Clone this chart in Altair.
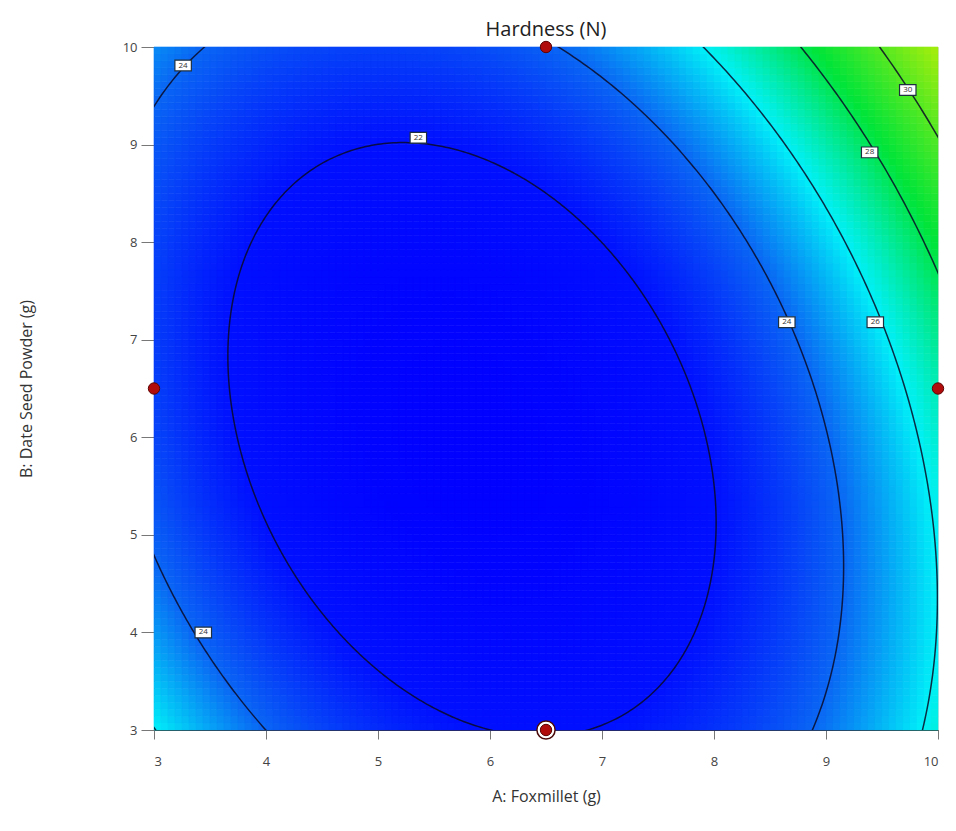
import numpy as np
import pandas as pd
import altair as alt

# Factor ranges (actual units)
A_RANGE = [3.0, 10.0]
B_RANGE = [3.0, 10.0]
A_TICKS = [3, 4, 5, 6, 7, 8, 9, 10]
B_TICKS = [3, 4, 5, 6, 7, 8, 9, 10]

# Quadratic response-surface coefficients for Hardness (coded factors)
COEF_NAMES = ["intercept", "A", "B", "AB", "A2", "B2"]
COEF_VALUES = [20.73, 1.86, 0.974, 1.71, 4.25, 2.18]

# Contour levels and where their labels sit
LEVELS = [22, 24, 26, 28, 30]
LABEL_A = [3.26, 5.36, 3.44, 8.65, 9.44, 9.39, 9.73]
LABEL_B = [9.81, 9.07, 4.00, 7.18, 7.18, 8.92, 9.56]
LABEL_LEVEL = [24, 22, 24, 24, 26, 28, 30]

# Design points
DESIGN_A = [6.5, 3.0, 10.0, 6.5]
DESIGN_B = [10.0, 6.5, 6.5, 3.0]
CENTER_A = [6.5]
CENTER_B = [3.0]

coef = dict(zip(COEF_NAMES, COEF_VALUES))
mid_a, half_a = sum(A_RANGE) / 2, (A_RANGE[1] - A_RANGE[0]) / 2
mid_b, half_b = sum(B_RANGE) / 2, (B_RANGE[1] - B_RANGE[0]) / 2


def hardness(A, B):
    a = (A - mid_a) / half_a
    b = (B - mid_b) / half_b
    return (coef["intercept"] + coef["A"] * a + coef["B"] * b + coef["AB"] * a * b
            + coef["A2"] * a * a + coef["B2"] * b * b)


# Filled surface as a fine grid of cells
nx, ny = 112, 98
ae = np.linspace(A_RANGE[0], A_RANGE[1], nx + 1)
be = np.linspace(B_RANGE[0], B_RANGE[1], ny + 1)
rows = []
for i in range(nx):
    for j in range(ny):
        ac = (ae[i] + ae[i + 1]) / 2
        bc = (be[j] + be[j + 1]) / 2
        rows.append({"A0": ae[i], "A1": ae[i + 1], "B0": be[j], "B1": be[j + 1],
                     "H": float(hardness(ac, bc))})
grid = pd.DataFrame(rows)

# Contours: the surface is an elliptic paraboloid, so each level is an ellipse
M = np.array([[2 * coef["A2"], coef["AB"]], [coef["AB"], 2 * coef["B2"]]])
ctr = np.linalg.solve(M, -np.array([coef["A"], coef["B"]]))
h_min = coef["intercept"] + 0.5 * (coef["A"] * ctr[0] + coef["B"] * ctr[1])
t = np.linspace(0, 2 * np.pi, 721)
c, s = np.cos(t), np.sin(t)
q = coef["A2"] * c * c + coef["AB"] * c * s + coef["B2"] * s * s
crows = []
for lev in LEVELS:
    r = np.sqrt((lev - h_min) / q)
    A = mid_a + half_a * (ctr[0] + r * c)
    B = mid_b + half_b * (ctr[1] + r * s)
    for k in range(len(t)):
        crows.append({"level": lev, "k": k, "A": A[k], "B": B[k]})
contours = pd.DataFrame(crows)

labels = pd.DataFrame({"A": LABEL_A, "B": LABEL_B, "txt": [str(v) for v in LABEL_LEVEL]})
design = pd.DataFrame({"A": DESIGN_A, "B": DESIGN_B})
center = pd.DataFrame({"A": CENTER_A, "B": CENTER_B})

xs = alt.Scale(domain=A_RANGE, nice=False, zero=False)
ys = alt.Scale(domain=B_RANGE, nice=False, zero=False)
cscale = alt.Scale(domain=[20.4, 22.0, 24.0, 26.0, 28.3, 32.5],
                   range=["#0000ff", "#0010ff", "#0a66f4", "#00f0f8", "#00e43a", "#d0f000"],
                   interpolate="rgb")

xaxis = alt.Axis(title="A: Foxmillet (g)", values=A_TICKS, format="d", grid=False,
                 tickSize=9, labelPadding=16, titlePadding=20, labelFontSize=13,
                 titleFontSize=16, labelColor="#444", titleColor="#333",
                 tickColor="#777", domainColor="#333", titleFontWeight="normal",
                 labelFont="Open Sans", titleFont="Open Sans")
yaxis = alt.Axis(title="B: Date Seed Powder (g)", values=B_TICKS, format="d", grid=False,
                 tickSize=13, labelPadding=4, titlePadding=88, labelFontSize=13,
                 titleFontSize=16, labelColor="#444", titleColor="#333",
                 tickColor="#777", domainColor="#333", titleFontWeight="normal",
                 labelFont="Open Sans", titleFont="Open Sans")

surface = alt.Chart(grid).mark_rect(strokeWidth=0.6).encode(
    x=alt.X("A0:Q", scale=xs, axis=xaxis),
    x2="A1:Q",
    y=alt.Y("B0:Q", scale=ys, axis=yaxis),
    y2="B1:Q",
    color=alt.Color("H:Q", scale=cscale, legend=None),
    stroke=alt.Stroke("H:Q", scale=cscale, legend=None),
)

lines = alt.Chart(contours).mark_line(color="#0a0a26", strokeWidth=1.5, opacity=0.85,
                                      clip=True).encode(
    x=alt.X("A:Q", scale=xs),
    y=alt.Y("B:Q", scale=ys),
    detail="level:N",
    order="k:Q",
)

boxes = alt.Chart(labels).mark_point(shape="M-1.3,-0.85L1.3,-0.85L1.3,0.85L-1.3,0.85Z",
                                     size=160, filled=True, fill="white", stroke="#1e3040",
                                     strokeWidth=1.2, opacity=1).encode(
    x=alt.X("A:Q", scale=xs), y=alt.Y("B:Q", scale=ys))

texts = alt.Chart(labels).mark_text(fontSize=8, color="#333", font="Open Sans").encode(
    x=alt.X("A:Q", scale=xs), y=alt.Y("B:Q", scale=ys), text="txt:N")

ring = alt.Chart(center).mark_point(filled=True, size=330, fill="white",
                                    stroke="#4a0a0a", strokeWidth=1.5, opacity=1,
                                    clip=False).encode(
    x=alt.X("A:Q", scale=xs), y=alt.Y("B:Q", scale=ys))

dots = alt.Chart(design).mark_point(filled=True, size=130, fill="#b00c0c",
                                    stroke="#5c0404", strokeWidth=1, opacity=1,
                                    clip=False).encode(
    x=alt.X("A:Q", scale=xs), y=alt.Y("B:Q", scale=ys))

chart = alt.layer(surface, lines, boxes, texts, ring, dots).properties(
    width=784, height=683,
    padding={"left": 154, "top": 47, "right": 18, "bottom": 101},
    autosize=alt.AutoSizeParams(type="none"),
    title=alt.TitleParams("Hardness (N)", fontSize=20, font="Open Sans",
                          fontWeight="normal", color="#222", offset=-1),
).configure_view(stroke="#333", strokeWidth=1).configure(background="white")

chart.save("out.html", embed_options={"renderer": "svg", "actions": False})
